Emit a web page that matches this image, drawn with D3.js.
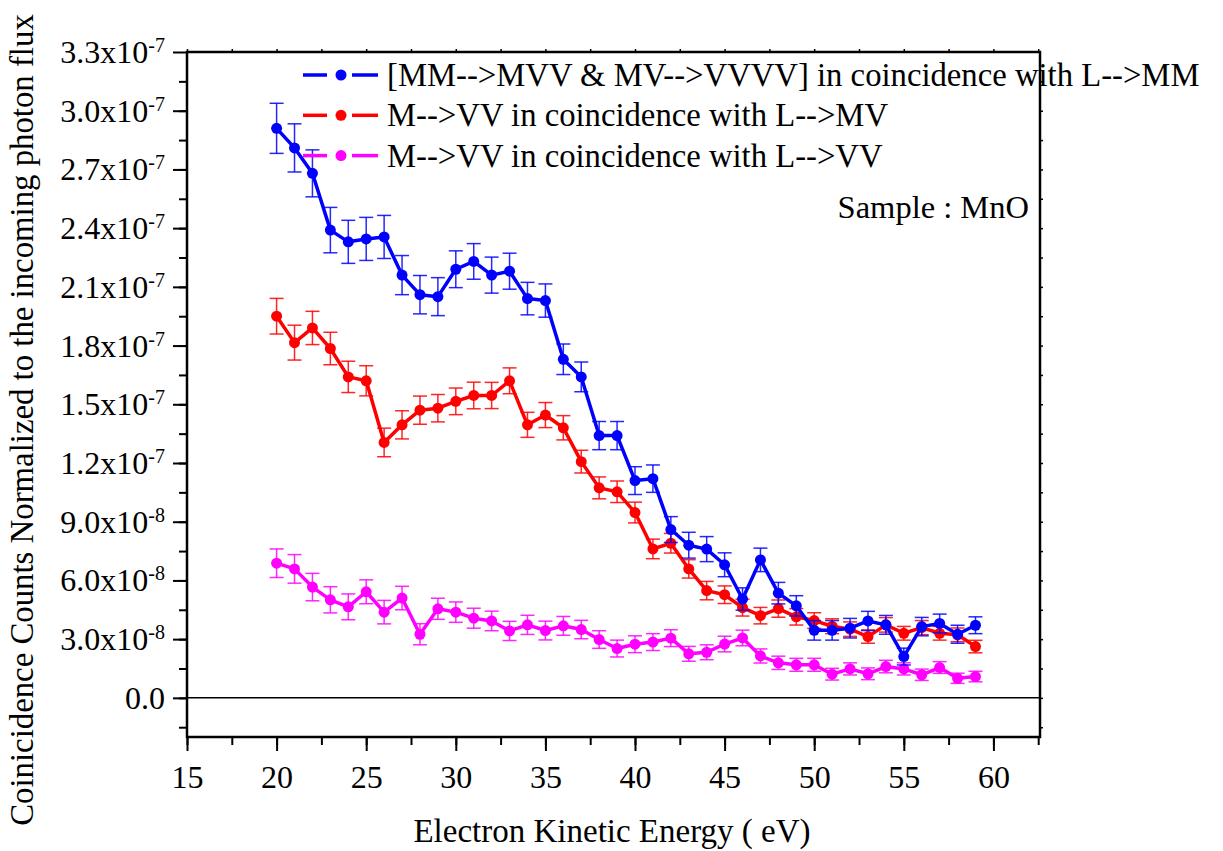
<!DOCTYPE html>
<html lang="en">
	<head>
		<meta charset="utf-8">
		<title>Coincidence counts MnO</title>
		<script type="text/javascript" src="https://cdn.jsdelivr.net/npm/d3@7/dist/d3.min.js"></script>
		<style type="text/css">
        body { margin: 0; background: #fff; }
        svg text { font-family: "Liberation Serif", "Times New Roman", serif; fill: #000; }
        .axis path, .axis line { stroke: #000; }
		</style>
	</head>
	<body>
		<div id="chart"></div>
		<script type="text/javascript">

        // electron kinetic energy (eV)
        var energy = [20,21,22,23,24,25,26,27,28,29,30,31,32,33,34,35,36,37,38,39,
                      40,41,42,43,44,45,46,47,48,49,50,51,52,53,54,55,56,57,58,59];

        // values in units of 1e-8
        var mmVals = [29.1,28.1,26.8,23.9,23.3,23.45,23.55,21.6,20.6,20.5,
                      21.9,22.3,21.6,21.8,20.4,20.3,17.3,16.4,13.4,13.4,
                      11.1,11.2,8.6,7.8,7.6,6.8,5.05,7.05,5.35,4.7,
                      3.45,3.45,3.56,3.93,3.73,2.11,3.64,3.80,3.25,3.71];
        var mmErr  = [1.28,1.23,1.2,1.16,1.1,1.1,1.1,1.0,0.98,0.97,
                      0.94,0.91,0.92,0.92,0.83,0.85,0.78,0.76,0.72,0.72,
                      0.71,0.7,0.66,0.66,0.64,0.61,0.57,0.6,0.55,0.52,
                      0.5,0.5,0.5,0.49,0.48,0.43,0.47,0.48,0.46,0.43];

        var mvVals = [19.5,18.15,18.9,17.85,16.4,16.2,13.05,13.95,14.7,14.8,
                      15.15,15.45,15.45,16.2,13.95,14.45,13.8,12.07,10.73,10.53,
                      9.47,7.61,7.9,6.59,5.48,5.27,4.61,4.2,4.56,4.14,
                      3.95,3.66,3.51,3.13,3.73,3.30,3.59,3.30,3.22,2.62];
        var mvErr  = [0.91,0.89,0.85,0.83,0.8,0.77,0.73,0.72,0.72,0.7,
                      0.68,0.68,0.67,0.66,0.64,0.64,0.62,0.58,0.56,0.55,
                      0.53,0.5,0.5,0.47,0.47,0.45,0.43,0.42,0.44,0.42,
                      0.4,0.38,0.37,0.34,0.37,0.35,0.36,0.35,0.35,0.32];

        var vvVals = [6.88,6.59,5.66,5.01,4.65,5.42,4.38,5.1,3.25,4.55,
                      4.38,4.07,3.93,3.42,3.73,3.44,3.68,3.49,2.98,2.52,
                      2.74,2.85,3.05,2.25,2.33,2.75,3.06,2.14,1.79,1.69,
                      1.69,1.21,1.48,1.23,1.6,1.48,1.18,1.55,1.0,1.09];
        var vvErr  = [0.73,0.73,0.7,0.67,0.66,0.61,0.6,0.6,0.54,0.54,
                      0.52,0.51,0.5,0.49,0.49,0.48,0.48,0.47,0.45,0.43,
                      0.43,0.43,0.43,0.38,0.38,0.4,0.4,0.36,0.34,0.33,
                      0.33,0.3,0.31,0.3,0.32,0.31,0.29,0.3,0.26,0.27];

        var seriesNames = ["[MM-->MVV & MV-->VVVV] in coincidence with L-->MM",
                           "M-->VV in coincidence with L-->MV",
                           "M-->VV in coincidence with L-->VV"];
        var seriesColors = ["#0000ff", "#ff0000", "#ff00ff"];

        var xTicks = [15,20,25,30,35,40,45,50,55,60];
        var yTickMant = ["0.0","3.0","6.0","9.0","1.2","1.5","1.8","2.1","2.4","2.7","3.0","3.3"];
        var yTickExp  = ["","-8","-8","-8","-7","-7","-7","-7","-7","-7","-7","-7"];

        var unit = 1e-8;

        var margin = {top: 52, right: 183, bottom: 114, left: 187},
            width = 1223 - margin.left - margin.right,
            height = 851 - margin.top - margin.bottom;

        var svg = d3.select("#chart")
                    .append("svg")
                    .attr("width", 1223)
                    .attr("height", 851);

        var chart = svg.append("g")
                       .attr("transform", "translate(" + margin.left + "," + margin.top + ")");

        var x = d3.scaleLinear()
                  .domain([15, 62.6])
                  .range([0, width]);
        var y = d3.scaleLinear()
                  .domain([-2e-8, 3.3e-7])
                  .range([height, 0]);

        var yTickVals = d3.range(0, 12).map(function(i) { return i * 3e-8; });
        var yMinor = d3.range(-1, 22).map(function(i) { return i * 1.5e-8; });
        var xMinor = d3.range(15, 63, 2.5);

        // minor ticks
        chart.append("g")
             .attr("class", "axis")
             .call(d3.axisLeft(y).tickValues(yMinor).tickSize(8).tickFormat(""))
             .call(function(g) { g.select(".domain").remove(); g.selectAll("line").attr("stroke-width", 2); });
        chart.append("g")
             .attr("class", "axis")
             .attr("transform", "translate(0," + height + ")")
             .call(d3.axisBottom(x).tickValues(xMinor).tickSize(8).tickFormat(""))
             .call(function(g) { g.select(".domain").remove(); g.selectAll("line").attr("stroke-width", 2); });
        chart.append("g")
             .attr("class", "axis")
             .call(d3.axisTop(x).tickValues(xMinor).tickSize(3).tickFormat(""))
             .call(function(g) { g.select(".domain").remove(); g.selectAll("line").attr("stroke-width", 1.5); });
        chart.append("g")
             .attr("class", "axis")
             .attr("transform", "translate(" + width + ",0)")
             .call(d3.axisRight(y).tickValues(yMinor).tickSize(3).tickFormat(""))
             .call(function(g) { g.select(".domain").remove(); g.selectAll("line").attr("stroke-width", 1.5); });

        // major y axis with superscript labels
        var yAxis = chart.append("g")
                         .attr("class", "axis y")
                         .call(d3.axisLeft(y).tickValues(yTickVals).tickSize(14).tickFormat(""));
        yAxis.select(".domain").remove();
        yAxis.selectAll("line").attr("stroke-width", 2);
        yAxis.selectAll(".tick").each(function(d, i) {
            var t = d3.select(this).append("text")
                      .attr("x", -22)
                      .attr("dy", "0.33em")
                      .attr("text-anchor", "end")
                      .style("font-size", "32px");
            if (yTickExp[i] === "") {
                t.text(yTickMant[i]);
            } else {
                t.append("tspan").text(yTickMant[i] + "x10");
                t.append("tspan").attr("dy", "-0.55em").style("font-size", "20px").text(yTickExp[i]);
            }
        });

        // major x axis
        var xAxis = chart.append("g")
                         .attr("class", "axis x")
                         .attr("transform", "translate(0," + height + ")")
                         .call(d3.axisBottom(x).tickValues(xTicks).tickSize(14).tickFormat(d3.format("d")));
        xAxis.select(".domain").remove();
        xAxis.selectAll("line").attr("stroke-width", 2);
        xAxis.selectAll("text")
             .attr("y", 51)
             .attr("dy", 0)
             .style("font-size", "32px");

        // frame
        chart.append("rect")
             .attr("x", 0).attr("y", 0)
             .attr("width", width).attr("height", height)
             .attr("fill", "none")
             .attr("stroke", "#000")
             .attr("stroke-width", 2.5);

        // zero line
        chart.append("line")
             .attr("x1", 0).attr("x2", width)
             .attr("y1", y(0)).attr("y2", y(0))
             .attr("stroke", "#000")
             .attr("stroke-width", 1.5);

        var allSeries = [
            {vals: mmVals, err: mmErr},
            {vals: mvVals, err: mvErr},
            {vals: vvVals, err: vvErr}
        ];

        var line = d3.line()
                     .x(function(d) { return x(d.e); })
                     .y(function(d) { return y(d.v * unit); });

        // draw magenta first, blue on top
        [2, 1, 0].forEach(function(s) {
            var pts = energy.map(function(e, i) {
                return {e: e, v: allSeries[s].vals[i], err: allSeries[s].err[i]};
            });
            var col = seriesColors[s];
            var g = chart.append("g");

            var bars = g.selectAll(".eb")
                        .data(pts)
                        .enter()
                        .append("g")
                        .attr("stroke", col)
                        .attr("stroke-width", 1.5)
                        .attr("stroke-opacity", 0.85);
            bars.append("line")
                .attr("x1", function(d) { return x(d.e); })
                .attr("x2", function(d) { return x(d.e); })
                .attr("y1", function(d) { return y((d.v - d.err) * unit); })
                .attr("y2", function(d) { return y((d.v + d.err) * unit); });
            bars.append("line")
                .attr("x1", function(d) { return x(d.e) - 7; })
                .attr("x2", function(d) { return x(d.e) + 7; })
                .attr("y1", function(d) { return y((d.v + d.err) * unit); })
                .attr("y2", function(d) { return y((d.v + d.err) * unit); });
            bars.append("line")
                .attr("x1", function(d) { return x(d.e) - 7; })
                .attr("x2", function(d) { return x(d.e) + 7; })
                .attr("y1", function(d) { return y((d.v - d.err) * unit); })
                .attr("y2", function(d) { return y((d.v - d.err) * unit); });

            g.append("path")
             .datum(pts)
             .attr("d", line)
             .attr("fill", "none")
             .attr("stroke", col)
             .attr("stroke-width", 3.5)
             .attr("stroke-linejoin", "round");

            g.selectAll("circle")
             .data(pts)
             .enter()
             .append("circle")
             .attr("cx", function(d) { return x(d.e); })
             .attr("cy", function(d) { return y(d.v * unit); })
             .attr("r", 5.5)
             .attr("fill", col);
        });

        // legend
        var legend = svg.append("g")
                        .attr("transform", "translate(303,75)");
        seriesNames.forEach(function(name, i) {
            var row = legend.append("g").attr("transform", "translate(0," + (i * 40.3) + ")");
            row.append("line").attr("x1", 0).attr("x2", 24).attr("y1", 0).attr("y2", 0)
               .attr("stroke", seriesColors[i]).attr("stroke-width", 3.5);
            row.append("line").attr("x1", 49).attr("x2", 75).attr("y1", 0).attr("y2", 0)
               .attr("stroke", seriesColors[i]).attr("stroke-width", 3.5);
            row.append("circle").attr("cx", 38).attr("cy", 0).attr("r", 5.5).attr("fill", seriesColors[i]);
            row.append("text")
               .attr("x", 84)
               .attr("y", 11)
               .style("font-size", "32.7px")
               .text(name);
        });

        svg.append("text")
           .attr("x", 1029)
           .attr("y", 218)
           .attr("text-anchor", "end")
           .style("font-size", "32.5px")
           .text("Sample : MnO");

        // axis titles
        svg.append("text")
           .attr("x", 612)
           .attr("y", 842)
           .attr("text-anchor", "middle")
           .style("font-size", "33px")
           .text("Electron Kinetic Energy ( eV)");

        svg.append("text")
           .attr("transform", "translate(33,420) rotate(-90)")
           .attr("text-anchor", "middle")
           .style("font-size", "32.8px")
           .text("Coinicidence Counts Normalized to the incoming photon flux");

		</script>
	</body>
</html>
